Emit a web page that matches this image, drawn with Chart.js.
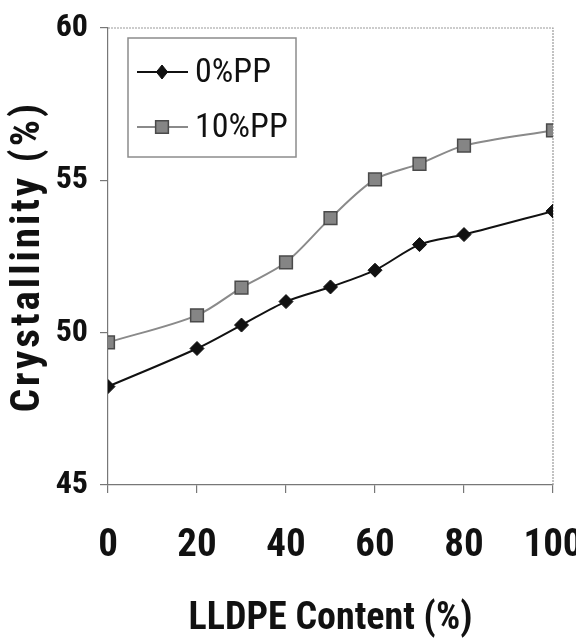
<!DOCTYPE html>
<html>
<head>
<meta charset="utf-8">
<script src="https://cdn.jsdelivr.net/npm/chart.js@4"></script>
<style>
html,body{margin:0;padding:0;background:#fff;}
#wrap{width:576px;height:640px;position:relative;}
</style>
</head>
<body>
<div id="wrap"><canvas id="c" width="576" height="640"></canvas></div>
<script>
const lldpeContent = [0, 20, 30, 40, 50, 60, 70, 80, 100];
const pp0 = [48.23, 49.48, 50.25, 51.02, 51.5, 52.05, 52.89, 53.22, 53.99];
const pp10 = [49.68, 50.57, 51.48, 52.31, 53.76, 55.03, 55.54, 56.14, 56.64];
const seriesNames = ['0%PP', '10%PP'];
const xTicks = [0, 20, 40, 60, 80, 100];
const yTicks = [45, 50, 55, 60];
const xTitle = 'LLDPE Content (%)';
const yTitle = 'Crystallinity (%)';

const FONT = 'Roboto, "Open Sans", sans-serif';

const toPts = (xs, ys) => xs.map((x, i) => ({x: x, y: ys[i]}));

const frame = {
  id: 'frame',
  beforeDatasetsDraw(chart) {
    const {ctx, chartArea: a} = chart;
    ctx.save();
    ctx.strokeStyle = '#9a9a9a';
    ctx.lineWidth = 1.2;
    ctx.setLineDash([2, 1]);
    ctx.beginPath();
    ctx.moveTo(a.left, a.top);
    ctx.lineTo(a.right, a.top);
    ctx.lineTo(a.right, a.bottom);
    ctx.stroke();
    ctx.restore();
  }
};

const legendBox = {
  id: 'legendBox',
  afterDatasetsDraw(chart) {
    const {ctx} = chart;
    const bx = 128, by = 38, bw = 168, bh = 119;
    ctx.save();
    ctx.fillStyle = '#fff';
    ctx.fillRect(bx, by, bw, bh);
    ctx.strokeStyle = '#8c8c8c';
    ctx.lineWidth = 1.5;
    ctx.strokeRect(bx, by, bw, bh);
    const rows = [72, 127];
    chart.data.datasets.forEach((ds, i) => {
      const y = rows[i];
      ctx.strokeStyle = ds.borderColor;
      ctx.lineWidth = ds.borderWidth;
      ctx.beginPath();
      ctx.moveTo(137, y);
      ctx.lineTo(188, y);
      ctx.stroke();
      ctx.fillStyle = ds.pointBackgroundColor;
      ctx.strokeStyle = ds.pointBorderColor;
      ctx.lineWidth = ds.pointBorderWidth;
      ctx.beginPath();
      if (ds.pointStyle === 'rectRot') {
        const r = ds.pointRadius;
        ctx.moveTo(162, y - r); ctx.lineTo(162 + r * 0.8, y); ctx.lineTo(162, y + r); ctx.lineTo(162 - r * 0.8, y); ctx.closePath();
      } else {
        const s = ds.pointRadius * Math.SQRT1_2;
        ctx.rect(162 - s, y - s, 2 * s, 2 * s);
      }
      ctx.fill();
      ctx.stroke();
      ctx.fillStyle = '#111';
      ctx.font = 'condensed 34px ' + FONT;
      ctx.textBaseline = 'middle';
      ctx.textAlign = 'left';
      ctx.fillText(ds.label, 195, y + 1);
    });
    ctx.restore();
  }
};

function spacedTitle(s) {
  if (s._spaced) return;
  s._spaced = true;
  const orig = s.drawTitle;
  s.drawTitle = function (area) {
    const ctx = this.ctx;
    ctx.save();
    ctx.letterSpacing = '3px';
    orig.call(this, area);
    ctx.restore();
  };
}

new Chart(document.getElementById('c'), {
  type: 'line',
  data: {
    datasets: [
      {
        label: seriesNames[0],
        data: toPts(lldpeContent, pp0),
        borderColor: '#111',
        borderWidth: 2,
        pointStyle: 'rectRot',
        pointRadius: 7,
        pointBackgroundColor: '#111',
        pointBorderColor: '#111',
        pointBorderWidth: 1,
        tension: 0.3
      },
      {
        label: seriesNames[1],
        data: toPts(lldpeContent, pp10),
        borderColor: '#8a8a8a',
        borderWidth: 2,
        pointStyle: 'rect',
        pointRadius: 9,
        pointBackgroundColor: '#858585',
        pointBorderColor: '#4a4a4a',
        pointBorderWidth: 1.5,
        tension: 0.3
      }
    ]
  },
  options: {
    responsive: false,
    animation: false,
    layout: {padding: {left: 0, right: 23, top: 28, bottom: 0}},
    plugins: {legend: {display: false}, tooltip: {enabled: false}},
    scales: {
      x: {
        type: 'linear',
        min: 0, max: 100,
        afterBuildTicks: s => { s.ticks = xTicks.map(v => ({value: v})); },
        afterFit: s => { s.height = 155; s.paddingLeft = 0; s.paddingRight = 0; },
        grid: {display: true, drawOnChartArea: false, drawTicks: true, tickLength: 8, color: '#777', lineWidth: 1.2},
        border: {display: true, color: '#777', width: 1.2},
        ticks: {color: '#111', padding: 30, font: {family: FONT, size: 39, weight: 'bold condensed'}, maxRotation: 0, autoSkip: false},
        title: {display: true, text: xTitle, color: '#111', padding: 0, font: {family: FONT, size: 38, weight: 'bold condensed', lineHeight: 1.1}}
      },
      y: {
        min: 45, max: 60,
        afterBuildTicks: s => { s.ticks = yTicks.map(v => ({value: v})); },
        afterFit: s => { s.width = 108; s.paddingTop = 0; s.paddingBottom = 0; spacedTitle(s); },
        grid: {display: true, drawOnChartArea: false, drawTicks: true, tickLength: 8, color: '#777', lineWidth: 1.2},
        border: {display: true, color: '#777', width: 1.2},
        ticks: {color: '#111', padding: 12, font: {family: FONT, size: 32, weight: 'bold condensed'}, autoSkip: false},
        title: {display: true, text: yTitle, color: '#111', padding: 6, font: {family: FONT, size: 41, weight: 'bold condensed', lineHeight: 1.1}}
      }
    }
  },
  plugins: [frame, legendBox]
});
</script>
</body>
</html>
